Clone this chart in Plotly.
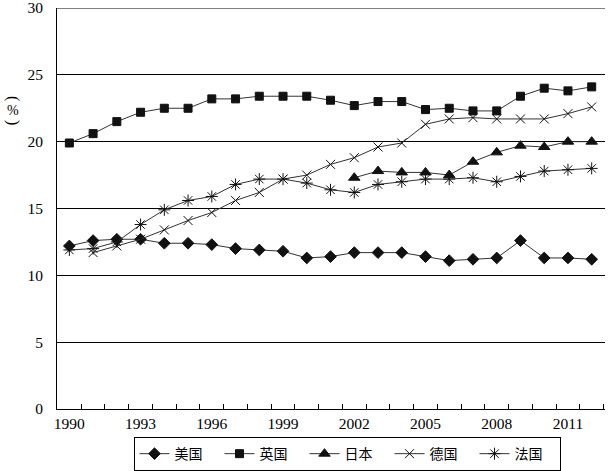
import plotly.graph_objects as go

years = list(range(1990, 2013))
us = [12.2, 12.6, 12.7, 12.7, 12.4, 12.4, 12.3, 12.0, 11.9, 11.8, 11.3, 11.4, 11.7, 11.7, 11.7, 11.4,
      11.1, 11.2, 11.3, 12.6, 11.3, 11.3, 11.2]
uk = [19.9, 20.6, 21.5, 22.2, 22.5, 22.5, 23.2, 23.2, 23.4, 23.4, 23.4, 23.1, 22.7, 23.0, 23.0, 22.4,
      22.5, 22.3, 22.3, 23.4, 24.0, 23.8, 24.1]
japan = [None] * 12 + [17.3, 17.8, 17.7, 17.7, 17.5, 18.5, 19.2, 19.7, 19.6, 20.0, 20.0]
germany = [None, 11.7, 12.2, 12.7, 13.4, 14.1, 14.7, 15.6, 16.2, 17.2, 17.5, 18.3, 18.8, 19.6, 19.9, 21.3,
           21.7, 21.8, 21.7, 21.7, 21.7, 22.1, 22.6]
france = [11.9, 12.0, 12.5, 13.8, 14.9, 15.6, 15.9, 16.8, 17.2, 17.2, 16.9, 16.4, 16.2, 16.8, 17.0, 17.2,
          17.2, 17.3, 17.0, 17.4, 17.8, 17.9, 18.0]

names = ["美国", "英国", "日本", "德国", "法国"]
series = [us, uk, japan, germany, france]
symbols = ["diamond", "square", "triangle-up", "x-thin-open", "asterisk-open"]
sizes = [9, 8, 10, 9, 10]

label_years = [1990, 1993, 1996, 1999, 2002, 2005, 2008, 2011]
y_ticks = [0, 5, 10, 15, 20, 25, 30]

fig = go.Figure()
for name, vals, sym, sz in zip(names, series, symbols, sizes):
    fig.add_trace(go.Scatter(
        x=years, y=vals, name=name, mode="lines+markers",
        line=dict(color="#333333", width=1),
        marker=dict(symbol=sym, size=sz, color="#111111",
                    line=dict(color="#111111", width=1)),
        connectgaps=False,
    ))

fig.update_layout(
    width=608, height=471,
    margin=dict(l=57, r=3, t=8, b=62, autoexpand=False),
    paper_bgcolor="white", plot_bgcolor="white",
    showlegend=True,
    legend=dict(
        orientation="h", x=0.5292, xanchor="center", y=-0.07, yanchor="top",
        bordercolor="black", borderwidth=1,
        font=dict(family="Noto Sans CJK SC", size=14, color="black"),
        entrywidth=40, entrywidthmode="pixels",
        tracegroupgap=0,
    ),
    font=dict(family="Liberation Serif", size=15, color="black"),
)

fig.update_xaxes(
    range=[1989.48, 2012.56],
    tickmode="array", tickvals=label_years, ticktext=[str(v) for v in label_years],
    ticks="", showgrid=False, zeroline=False,
    showline=True, linecolor="black", linewidth=1,
    tickfont=dict(family="Liberation Serif", size=15.5, color="black"),
    minor=dict(tickmode="array", tickvals=[y + 0.5 for y in years],
               ticks="inside", ticklen=5, tickcolor="black", tickwidth=1, showgrid=False),
)
fig.update_yaxes(
    range=[0, 30], automargin=False,
    tickmode="array", tickvals=y_ticks,
    ticks="", showgrid=True, gridcolor="black", gridwidth=1, zeroline=False,
    showline=True, linecolor="black", linewidth=1,
    ticklabelstandoff=10, ticklabeloverflow="allow",
    tickfont=dict(family="Liberation Serif", size=15.5, color="black"),
)

# top gridline (at the end of the range, which Plotly does not draw as a grid line)
fig.add_shape(type="line", xref="paper", x0=0, x1=1, yref="y", y0=30, y1=30,
              line=dict(color="black", width=1))

for txt, yp, ang, sz in [("(", 98, 90, 16), ("%", 110, 0, 14), (")", 122, 90, 16)]:
    fig.add_annotation(
        text=txt, xref="paper", yref="paper",
        x=(13 - 57) / 548, y=(408.7 - yp) / 400.7,
        xanchor="center", yanchor="middle", showarrow=False, textangle=ang,
        font=dict(family="Liberation Serif", size=sz, color="black"),
    )

fig.write_html("out.html", config={"displayModeBar": False},
               post_script="document.body.style.margin='0';")
